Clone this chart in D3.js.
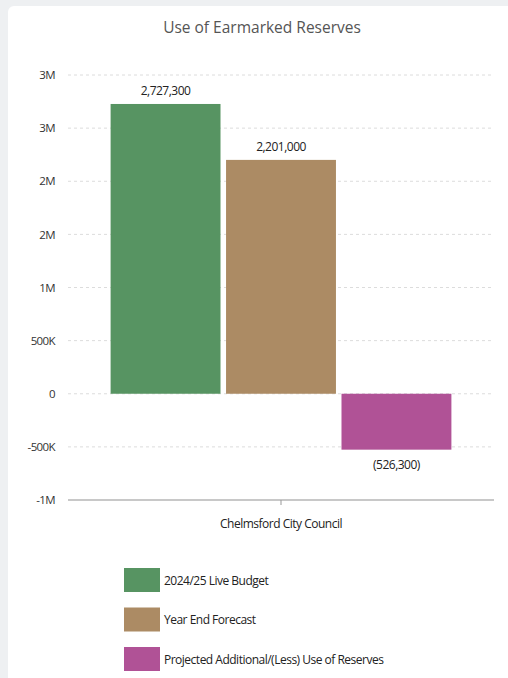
<!doctype html>
<html>
<head>
<meta charset="utf-8">
<title>Use of Earmarked Reserves</title>
<script src="https://cdn.jsdelivr.net/npm/d3@7"></script>
<style>
  html, body { margin: 0; padding: 0; background: #eef0f2; }
  body { width: 508px; height: 678px; overflow: hidden; }
  svg { display: block; font-family: "Open Sans", "Noto Sans", sans-serif; }
</style>
</head>
<body>
<div id="chart"></div>
<script>
// data
const categories = ["Chelmsford City Council"];
const seriesNames = ["2024/25 Live Budget", "Year End Forecast", "Projected Additional/(Less) Use of Reserves"];
const seriesValues = [2727300, 2201000, -526300];
const seriesColors = ["#579462", "#ac8b64", "#b05296"];
const tickValues = [-1000000, -500000, 0, 500000, 1000000, 1500000, 2000000, 2500000, 3000000];
const tickLabels = ["-1M", "-500K", "0", "500K", "1M", "2M", "2M", "3M", "3M"];

const W = 508, H = 678;
const plot = { left: 68, right: 494, top: 75, bottom: 500 };

const svg = d3.select("#chart").append("svg")
    .attr("width", W).attr("height", H);

// card
svg.append("rect")
    .attr("x", 8).attr("y", 6).attr("width", W).attr("height", H + 20)
    .attr("rx", 6).attr("fill", "#ffffff");

svg.append("text")
    .attr("x", 262).attr("y", 33)
    .attr("text-anchor", "middle")
    .attr("font-size", 15.5)
    .attr("fill", "#555")
    .text("Use of Earmarked Reserves");

const y = d3.scaleLinear().domain([-1000000, 3000000]).range([plot.bottom, plot.top]);
const x0 = d3.scaleBand().domain(categories).range([plot.left, plot.right]).paddingOuter(0.125).paddingInner(0);
const x1 = d3.scaleBand().domain(seriesNames).range([0, x0.bandwidth()]).paddingInner(0.048).paddingOuter(0);

// gridlines
svg.append("g")
  .selectAll("line")
  .data(tickValues.filter(v => v !== -1000000))
  .join("line")
    .attr("x1", plot.left).attr("x2", plot.right)
    .attr("y1", d => y(d)).attr("y2", d => y(d))
    .attr("stroke", "#dcdcdc")
    .attr("stroke-dasharray", "3,3");

// y axis labels
const yAxis = d3.axisLeft(y)
    .tickValues(tickValues)
    .tickFormat((d, i) => tickLabels[i])
    .tickSize(0).tickPadding(0);
const gy = svg.append("g").attr("transform", `translate(55,0)`).call(yAxis);
gy.select(".domain").remove();
gy.selectAll("text").attr("font-size", 11.5).attr("fill", "#333")
    .attr("font-family", "'Open Sans', sans-serif").attr("letter-spacing", "-0.6");

// x axis
const xAxis = d3.axisBottom(x0).tickSize(5).tickPadding(14);
const gx = svg.append("g").attr("transform", `translate(0,${plot.bottom})`).call(xAxis);
gx.select(".domain").attr("stroke", "#c8c8c8").attr("stroke-width", 2)
    .attr("d", `M${plot.left},0H${plot.right}`);
gx.selectAll(".tick line").attr("stroke", "#999");
gx.selectAll("text").attr("font-size", 12).attr("fill", "#222")
    .attr("font-family", "'Open Sans', sans-serif").attr("letter-spacing", "-0.5");

// bars
const rows = seriesNames.map((s, i) => ({ series: s, value: seriesValues[i], color: seriesColors[i], cat: categories[0] }));
svg.append("g")
  .selectAll("rect")
  .data(rows)
  .join("rect")
    .attr("x", d => x0(d.cat) + x1(d.series))
    .attr("width", x1.bandwidth())
    .attr("y", d => y(Math.max(0, d.value)))
    .attr("height", d => Math.abs(y(d.value) - y(0)))
    .attr("fill", d => d.color);

const fmt = d3.format(",");
svg.append("g")
  .selectAll("text")
  .data(rows)
  .join("text")
    .attr("x", d => x0(d.cat) + x1(d.series) + x1.bandwidth() / 2)
    .attr("y", d => d.value >= 0 ? y(d.value) - 9 : y(d.value) + 19)
    .attr("text-anchor", "middle")
    .attr("font-size", 12)
    .attr("letter-spacing", "-0.5")
    .attr("fill", "#222")
    .text(d => d.value >= 0 ? fmt(d.value) : `(${fmt(-d.value)})`);

// legend
const legend = svg.append("g").attr("transform", "translate(124,568)");
const item = legend.selectAll("g")
  .data(rows)
  .join("g")
    .attr("transform", (d, i) => `translate(0,${i * 39.5})`);
item.append("rect")
    .attr("width", 36).attr("height", 24)
    .attr("fill", d => d.color);
item.append("text")
    .attr("x", 40).attr("y", 16.5)
    .attr("font-size", 12)
    .attr("letter-spacing", "-0.5")
    .attr("fill", "#222")
    .text(d => d.series);
</script>
</body>
</html>
